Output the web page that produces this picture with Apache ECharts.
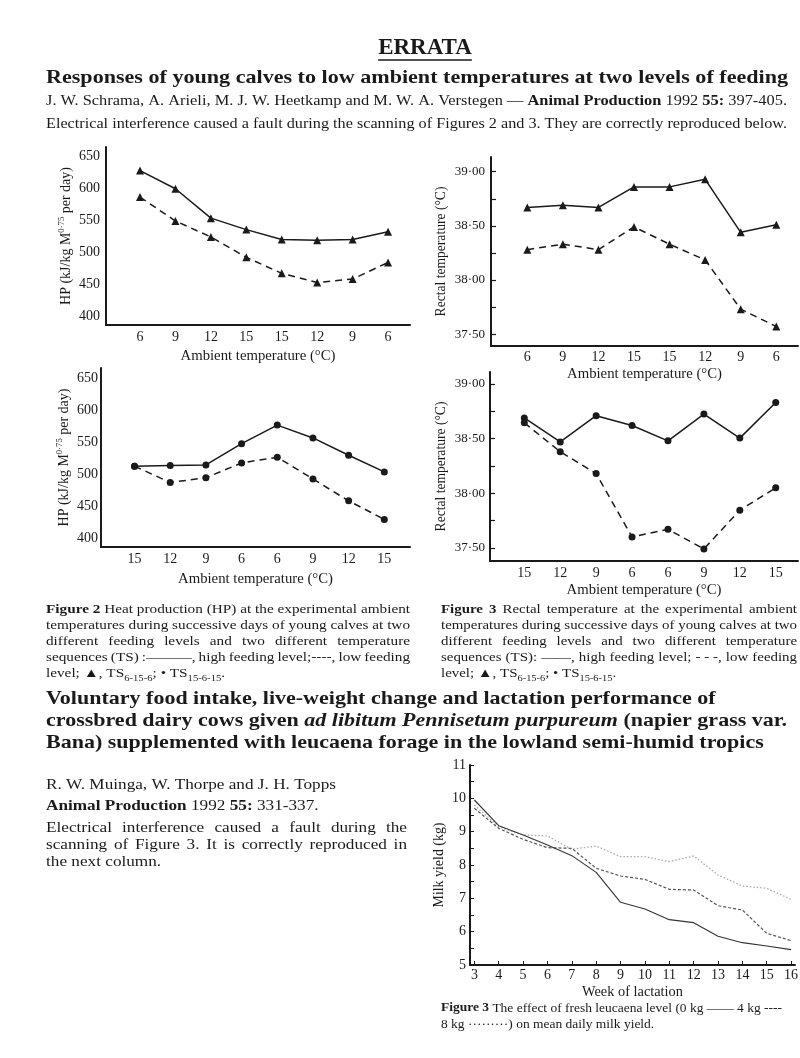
<!DOCTYPE html>
<html><head><meta charset="utf-8">
<script src="https://cdn.jsdelivr.net/npm/echarts@6/dist/echarts.min.js"></script>
<style>html,body{margin:0;padding:0;background:#fff}#c{width:800px;height:1058px}</style>
</head><body><div id="c"></div>
<script>
// ---------------- DATA ----------------
const fig2aLabels = ['6','9','12','15','15','12','9','6'];
const fig2aHigh = [628, 599.5, 553.5, 535.5, 520, 519, 520, 532];
const fig2aLow  = [586.5, 549, 524, 492, 467, 452.5, 458, 484];
const fig2aTicks = [400, 450, 500, 550, 600, 650];

const fig3aLabels = ['6','9','12','15','15','12','9','6'];
const fig3aHigh = [38.67, 38.69, 38.67, 38.86, 38.86, 38.93, 38.44, 38.51];
const fig3aLow  = [38.28, 38.33, 38.28, 38.49, 38.33, 38.185, 37.73, 37.57];
const fig3Ticks = [37.5, 38.0, 38.5, 39.0];
const fig3MinorTicks = [37.5, 37.75, 38.0, 38.25, 38.5, 38.75, 39.0];

const fig2bLabels = ['15','12','9','6','6','9','12','15'];
const fig2bHigh = [513, 514, 515, 548, 577, 557, 530, 504];
const fig2bLow  = [513, 487.5, 495, 518, 527, 493, 459, 430];

const fig3bLabels = ['15','12','9','6','6','9','12','15'];
const fig3bHigh = [38.69, 38.47, 38.71, 38.62, 38.48, 38.725, 38.505, 38.83];
const fig3bLow  = [38.645, 38.38, 38.18, 37.60, 37.67, 37.49, 37.845, 38.05];

const weeks  = [3, 4, 5, 6, 7, 8, 9, 10, 11, 12, 13, 14, 15, 16];
const milk0  = [9.95, 9.18, 8.9, 8.6, 8.28, 7.78, 6.88, 6.68, 6.36, 6.27, 5.86, 5.67, 5.57, 5.46];
const milk4  = [9.7, 9.1, 8.77, 8.52, 8.5, 7.9, 7.67, 7.57, 7.27, 7.25, 6.78, 6.65, 5.95, 5.73];
const milk8  = [9.8, 9.15, 8.9, 8.87, 8.47, 8.57, 8.25, 8.25, 8.1, 8.27, 7.7, 7.37, 7.3, 6.97];
const milkYTicks = [5, 6, 7, 8, 9, 10, 11];
const milkYMinor = [5, 5.5, 6, 6.5, 7, 7.5, 8, 8.5, 9, 9.5, 10, 10.5, 11];

// ---------------- HELPERS ----------------
const FF = "'Liberation Serif','Times New Roman',serif";
const INK = '#1a1a1a';
const cv = document.createElement('canvas').getContext('2d');
function fontStr(sty, size){ return (sty.includes('i')?'italic ':'normal ') + (sty.includes('b')?'bold ':'normal ') + size + 'px ' + FF; }
function tw(text, size, sty){ cv.font = fontStr(sty||'n', size); return cv.measureText(text).width; }
function words(segs){ const out=[]; segs.forEach(([sty,txt])=>{ txt.split(' ').forEach(w=>{ if(w) out.push({sty, w}); }); }); return out; }
function natWidth(segs, size){ const ws=words(segs); let s=0; ws.forEach(o=>{ s+=tw(o.w,size,o.sty); }); s+=tw(' ',size,'n')*(ws.length-1); return s; }
function fitSize(segs, width){ return 20*width/natWidth(segs,20); }
function fitScale(segs, size, width){ return width/natWidth(segs,size); }
const G = [];
function txt(text, x, y, size, sty, align, extra, sx){
  const el = {type:'text', x, y, scaleX: sx||1, scaleY:1, silent:true, style:Object.assign({text, fontSize:size, fontFamily:FF,
    fontWeight: (sty||'').includes('b')?'bold':'normal', fontStyle:(sty||'').includes('i')?'italic':'normal',
    fill:INK, textAlign:align||'left', align:align||'left', textVerticalAlign:'middle', verticalAlign:'middle'}, extra||{})};
  G.push(el);
}
function placeLine(segs, x, y, size, justifyW, sx){
  sx = sx || 1;
  const ws = words(segs);
  const widths = ws.map(o=>tw(o.w,size,o.sty)*sx);
  let gap = tw(' ',size,'n')*sx;
  if (justifyW && ws.length>1){ const tot = widths.reduce((a,b)=>a+b,0); gap = (justifyW-tot)/(ws.length-1); }
  let cx = x;
  ws.forEach((o,i)=>{ txt(o.w, cx, y, size, o.sty, 'left', null, sx); cx += widths[i]+gap; });
}
function fitLine(segs, x, y, size, width){ const sx = fitScale(segs,size,width); placeLine(segs,x,y,size,null,sx); return sx; }

// ---------------- TEXT ----------------
const errSize = 23;
txt('ERRATA', 425, 48, errSize, 'b', 'center');
const errW = tw('ERRATA', errSize, 'b');
G.push({type:'line', silent:true, shape:{x1:425-errW/2, y1:60, x2:425+errW/2, y2:60}, style:{stroke:INK, lineWidth:1.6}});

fitLine([['b','Responses of young calves to low ambient temperatures at two levels of feeding']], 46, 78, 19.5, 742);
fitLine([['n','J. W. Schrama, A. Arieli, M. J. W. Heetkamp and M. W. A. Verstegen —'],['b','Animal Production'],['n','1992'],['b','55:'],['n','397-405.']], 46, 101, 14, 741);
fitLine([['n','Electrical interference caused a fault during the scanning of Figures 2 and 3. They are correctly reproduced below.']], 46, 124, 14, 741);

// Figure captions
function caption(x, W, num, lines, last, y0){
  const size = 13;
  const sx = fitScale([['n',lines[1]]], size, W);
  placeLine([['b','Figure '+num],['n',lines[0]]], x, y0, size, W, sx);
  placeLine([['n',lines[1]]], x, y0+16, size, W, sx);
  placeLine([['n',lines[2]]], x, y0+32, size, W, sx);
  placeLine([['n',lines[3]]], x, y0+48, size, W, sx);
  txt(last, x, y0+64, size, 'n', 'left', {lineHeight:18, rich:{s:{fontSize:size*0.7, fontFamily:FF, fill:INK, lineHeight:9, verticalAlign:'bottom'}}}, sx);
}
caption(46, 364, '2', ['Heat production (HP) at the experimental ambient',
  'temperatures during successive days of young calves at two',
  'different feeding levels and two different temperature',
  'sequences (TS) :———, high feeding level;----, low feeding'],
  'level; ▲, TS{s|6-15-6}; • TS{s|15-6-15}.', 610);
caption(441, 356, '3', ['Rectal temperature at the experimental ambient',
  'temperatures during successive days of young calves at two',
  'different feeding levels and two different temperature',
  'sequences (TS): ——, high feeding level; -\u00a0-\u00a0-, low feeding'],
  'level; ▲, TS{s|6-15-6}; • TS{s|15-6-15}.', 610);

// Second article title
const t2line2 = [['b','crossbred dairy cows given'],['bi','ad libitum Pennisetum purpureum'],['b','(napier grass var.']];
const t2s = 19.5;
const t2sx = fitScale(t2line2, t2s, 741);
placeLine([['b','Voluntary food intake, live-weight change and lactation performance of']], 46, 699, t2s, null, t2sx);
placeLine(t2line2, 46, 721, t2s, null, t2sx);
placeLine([['b','Bana) supplemented with leucaena forage in the lowland semi-humid tropics']], 46, 743, t2s, null, t2sx);

const aSize = 14.5;
const aSx = fitLine([['n','R. W. Muinga, W. Thorpe and J. H. Topps']], 46, 785, aSize, 290);
placeLine([['b','Animal Production'],['n','1992'],['b','55:'],['n','331-337.']], 46, 806, aSize, null, aSx);
placeLine([['n','Electrical interference caused a fault during the']], 46, 828, aSize, 361, aSx);
placeLine([['n','scanning of Figure 3. It is correctly reproduced in']], 46, 845, aSize, 361, aSx);
placeLine([['n','the next column.']], 46, 862, aSize, null, aSx);

const mSize = 13.5;
const mL1 = [['b','Figure 3'],['n','The effect of fresh leucaena level (0 kg —— 4 kg ----']];
const mSx = fitScale(mL1, mSize, 341);
placeLine(mL1, 441, 1008, mSize, null, mSx);
placeLine([['n','8 kg ·········) on mean daily milk yield.']], 441, 1024, mSize, null, mSx);

// ---------------- AXES ----------------
const ambName = 'Ambient temperature (°C)';
const ambSize = fitSize([['n',ambName]], 155);
function nameStyle(size){ return {fontFamily:FF, fontSize:size, color:INK, lineHeight:18,
  rich:{sup:{fontFamily:FF, fontSize:size*0.62, color:INK, lineHeight:9, verticalAlign:'top'}}}; }
function xCat(gi, labels, min, max, nameGap, margin){
  return {type:'value', gridIndex:gi, min, max,
    axisLine:{show:true, onZero:false, lineStyle:{color:INK, width:2}},
    axisTick:{show:false}, splitLine:{show:false},
    axisLabel:{customValues:labels.map((_,i)=>i), formatter:v=>labels[Math.round(v)], fontFamily:FF, fontSize:14, color:INK, margin},
    name:ambName, nameLocation:'middle', nameGap, nameTextStyle:nameStyle(ambSize)};
}
const hpName = 'HP (kJ/kg M{sup|0·75} per day)';
const hpSize = fitSize([['n','HP (kJ/kg M075 per day)']], 143);
function yHP(gi, min, max, nameGap, margin){
  return {type:'value', gridIndex:gi, min, max,
    axisLine:{show:true, onZero:false, lineStyle:{color:INK, width:2}},
    axisTick:{show:false}, splitLine:{show:false},
    axisLabel:{customValues:fig2aTicks, fontFamily:FF, fontSize:14, color:INK, margin},
    name:hpName, nameLocation:'middle', nameRotate:90, nameGap, nameTextStyle:nameStyle(hpSize)};
}
const rtName = 'Rectal temperature (°C)';
const rtSize = fitSize([['n',rtName]], 130);
function yRT(gi, min, max, nameGap, margin){
  return {type:'value', gridIndex:gi, min, max,
    axisLine:{show:true, onZero:false, lineStyle:{color:INK, width:2}},
    axisTick:{show:true, inside:true, length:5, customValues:fig3MinorTicks, lineStyle:{color:INK, width:1.2}},
    splitLine:{show:false},
    axisLabel:{customValues:fig3Ticks, formatter:v=>v.toFixed(2).replace('.','·'), fontFamily:FF, fontSize:13, color:INK, margin},
    name:rtName, nameLocation:'middle', nameRotate:90, nameGap, nameTextStyle:nameStyle(rtSize)};
}

const grids = [
  {left:106, top:147, width:304, height:178},
  {left:491, top:157, width:307, height:189},
  {left:101, top:368, width:309, height:179},
  {left:490, top:372, width:308, height:189},
  {left:470, top:765, width:325, height:200}
].map(g=>Object.assign(g,{outerBoundsMode:'none', containLabel:false}));

const xAxes = [
  xCat(0, fig2aLabels, -0.96, 7.62, 22, 5),
  xCat(1, fig3aLabels, -1.02, 7.61, 17, 4),
  xCat(2, fig2bLabels, -0.94, 7.72, 23, 5),
  xCat(3, fig3bLabels, -0.955, 7.62, 18, 5),
  {type:'value', gridIndex:4, min:2.82, max:16.16,
    axisLine:{show:true, onZero:false, lineStyle:{color:INK, width:2}},
    axisTick:{show:true, inside:true, length:4, customValues:weeks, lineStyle:{color:INK}},
    splitLine:{show:false},
    axisLabel:{customValues:weeks, fontFamily:FF, fontSize:14, color:INK, margin:3},
    name:'Week of lactation', nameLocation:'middle', nameGap:18, nameTextStyle:nameStyle(fitSize([['n','Week of lactation']],101))}
];
const yAxes = [
  yHP(0, 386, 665, 30, 6),
  yRT(1, 37.39, 39.136, 36, 6),
  yHP(2, 387, 666, 25, 3),
  yRT(3, 37.38, 39.11, 36, 5),
  {type:'value', gridIndex:4, min:5, max:11,
    axisLine:{show:true, onZero:false, lineStyle:{color:INK, width:2}},
    axisTick:{show:true, inside:true, length:4, customValues:milkYMinor, lineStyle:{color:INK}},
    splitLine:{show:false},
    axisLabel:{customValues:milkYTicks, fontFamily:FF, fontSize:14, color:INK, margin:4},
    name:'Milk yield (kg)', nameLocation:'middle', nameRotate:90, nameGap:15, nameTextStyle:nameStyle(fitSize([['n','Milk yield (kg)']],85))}
];

function ser(gi, vals, dashed, symbol){
  return {type:'line', xAxisIndex:gi, yAxisIndex:gi, data:vals.map((v,i)=>[i,v]),
    symbol, symbolSize: symbol==='triangle'?8:7, showSymbol:true,
    itemStyle:{color:INK}, lineStyle:{color:INK, width:1.5, type: dashed?[7,5]:'solid'},
    z: 3, animation:false};
}
function milkSer(vals, color, width, type){
  return {type:'line', xAxisIndex:4, yAxisIndex:4, data:weeks.map((w,i)=>[w, vals[i]]),
    showSymbol:false, symbol:'none', lineStyle:{color, width, type}, animation:false};
}

const series = [
  ser(0, fig2aHigh, false, 'triangle'), ser(0, fig2aLow, true, 'triangle'),
  ser(1, fig3aHigh, false, 'triangle'), ser(1, fig3aLow, true, 'triangle'),
  ser(2, fig2bHigh, false, 'circle'), ser(2, fig2bLow, true, 'circle'),
  ser(3, fig3bHigh, false, 'circle'), ser(3, fig3bLow, true, 'circle'),
  milkSer(milk8, '#a8a8a8', 1.3, [1.5, 2]),
  milkSer(milk4, '#555', 1.2, [3, 2]),
  milkSer(milk0, '#333', 1.1, 'solid')
];

const chart = echarts.init(document.getElementById('c'), null, {renderer:'canvas'});
chart.setOption({
  animation:false, backgroundColor:'#fff',
  grid:grids, xAxis:xAxes, yAxis:yAxes, series,
  graphic:{elements:G}
});
</script></body></html>
